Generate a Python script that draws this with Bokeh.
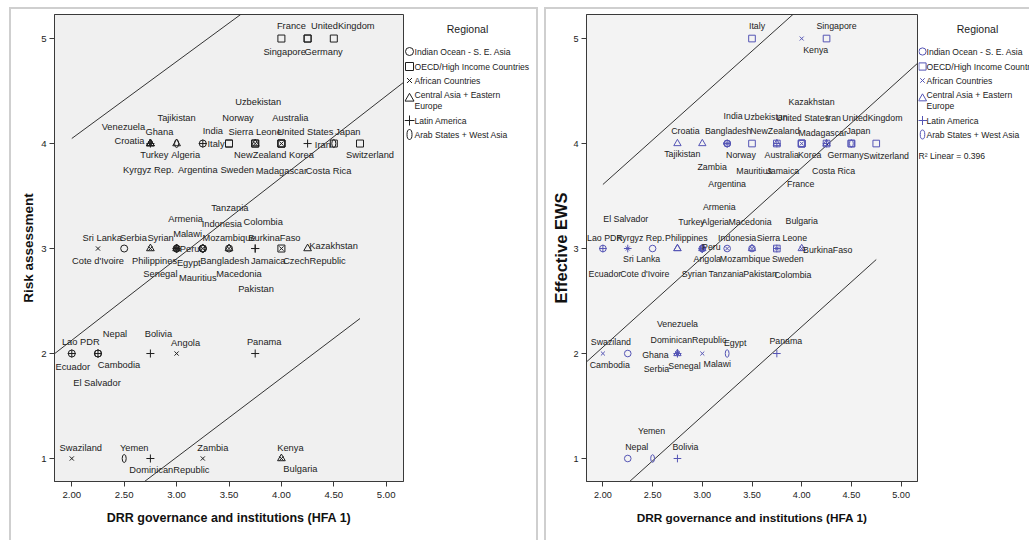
from bokeh.plotting import figure
from bokeh.layouts import row
from bokeh.models import ColumnDataSource, Range1d, FixedTicker, PrintfTickFormatter
from bokeh.core.properties import value
from bokeh.embed import file_html
from bokeh.resources import INLINE

# ---------------- data ----------------
countries = ["France", "UnitedKingdom", "Singapore", "Germany", "Uzbekistan", "Tajikistan",
             "Norway", "Australia", "Venezuela", "Ghana", "India", "Sierra Leone",
             "United States", "Japan", "Croatia", "Italy", "Iran", "Turkey", "Algeria",
             "NewZealand", "Korea", "Switzerland", "Kyrgyz Rep.", "Argentina", "Sweden",
             "Madagascar", "Costa Rica", "Tanzania", "Armenia", "Indonesia", "Colombia",
             "Sri Lanka", "Serbia", "Syrian", "Malawi", "Mozambique", "BurkinaFaso",
             "Kazakhstan", "Peru", "Cote d'Ivoire", "Philippines", "Egypt", "Bangladesh",
             "Jamaica", "CzechRepublic", "Senegal", "Mauritius", "Macedonia", "Pakistan",
             "Lao PDR", "Nepal", "Bolivia", "Angola", "Ecuador", "Cambodia", "El Salvador",
             "Panama", "Swaziland", "Yemen", "Zambia", "DominicanRepublic", "Kenya", "Bulgaria"]

hfa1 = [4.0, 4.5, 4.25, 4.25, 3.75, 3.0,
        3.5, 4.0, 2.75, 2.75, 3.25, 3.75,
        4.0, 4.5, 2.75, 3.5, 4.5, 2.75, 3.0,
        3.75, 4.0, 4.75, 2.75, 3.25, 3.75,
        4.0, 4.25, 3.25, 3.0, 3.25, 3.75,
        2.5, 2.75, 3.0, 3.0, 3.5, 4.0,
        4.25, 3.0, 2.25, 3.0, 3.25, 3.25,
        3.75, 4.0, 2.75, 3.25, 3.5, 3.5,
        2.0, 2.25, 2.75, 3.0, 2.0, 2.25, 2.25,
        3.75, 2.0, 2.5, 3.25, 2.75, 4.0, 4.0]

risk = [5, 5, 5, 5, 4, 4,
        4, 4, 4, 4, 4, 4,
        4, 4, 4, 4, 4, 4, 4,
        4, 4, 4, 4, 4, 4,
        4, 4, 3, 3, 3, 3,
        3, 3, 3, 3, 3, 3,
        3, 3, 3, 3, 3, 3,
        3, 3, 3, 3, 3, 3,
        2, 2, 2, 2, 2, 2, 2,
        2, 1, 1, 1, 1, 1, 1]

ews = [4, 4, 5, 4, 4, 4,
       4, 4, 2, 2, 4, 3,
       4, 4, 4, 5, 4, 3, 3,
       4, 4, 4, 3, 4, 3,
       4, 4, 3, 3, 3, 3,
       3, 2, 3, 2, 3, 3,
       4, 3, 3, 3, 2, 4,
       4, None, 2, 4, 3, 3,
       3, 1, 1, 3, 3, 2, 3,
       2, 2, 1, 4, 2, 5, 3]

# 0 Indian Ocean, 1 OECD, 2 African, 3 Central Asia + E. Europe, 4 Latin America, 5 Arab States
region = [1, 1, 1, 1, 3, 3,
          1, 1, 4, 2, 0, 2,
          1, 1, 3, 1, 5, 3, 5,
          1, 1, 1, 3, 4, 1,
          2, 4, 2, 3, 0, 4,
          0, 3, 5, 2, 2, 2,
          3, 4, 2, 0, 5, 0,
          4, 1, 2, 0, 3, 0,
          0, 0, 4, 2, 4, 0, 4,
          4, 2, 5, 2, 4, 2, 3]

regions = ["Indian Ocean - S. E. Asia", "OECD/High Income Countries", "African Countries",
           "Central Asia + Eastern\nEurope", "Latin America", "Arab States + West Asia"]

x_ticks = [2.0, 2.5, 3.0, 3.5, 4.0, 4.5, 5.0]
y_ticks = [1, 2, 3, 4, 5]

# fitted line and prediction-interval lines (value at x=2.00, slope)
fit_risk = (2.126, 0.776)
upper_risk = (4.048, 0.733)
lower_risk = (0.257, 0.755)
fit_ews = (2.061, 0.854)
upper_ews = (3.610, 0.847)
lower_ews = (0.552, 0.852)
r2_ews = 0.396

# ---------------- label placement (screen px offsets) ----------------
off_risk = {
    "France": (10, -13), "UnitedKingdom": (9, -13), "Singapore": (-23, 13), "Germany": (16, 13),
    "Uzbekistan": (3, -42), "Tajikistan": (0, -26), "Norway": (9, -26), "Australia": (9, -26),
    "Venezuela": (-27, -17), "Ghana": (9, -12), "India": (10, -13), "Sierra Leone": (0, -12),
    "United States": (24, -12), "Japan": (14, -12), "Croatia": (-21, -3), "Italy": (-13, 0),
    "Iran": (-11, 1), "Turkey": (4, 11), "Algeria": (9, 11), "NewZealand": (5, 11), "Korea": (20, 11),
    "Switzerland": (10, 11), "Kyrgyz Rep.": (-2, 26), "Argentina": (-5, 26), "Sweden": (-18, 26),
    "Madagascar": (0, 27), "Costa Rica": (21, 27),
    "Tanzania": (27, -41), "Armenia": (9, -30), "Indonesia": (19, -25), "Colombia": (8, -27),
    "Sri Lanka": (-22, -11), "Serbia": (-17, -11), "Syrian": (-16, -11), "Malawi": (11, -15),
    "Mozambique": (0, -11), "BurkinaFaso": (-7, -11), "Kazakhstan": (26, -3), "Peru": (13, 0),
    "Cote d'Ivoire": (0, 12), "Philippines": (-22, 12), "Egypt": (-14, 14), "Bangladesh": (22, 12),
    "Jamaica": (13, 12), "CzechRepublic": (33, 12), "Senegal": (10, 25), "Mauritius": (-5, 29),
    "Macedonia": (10, 25), "Pakistan": (27, 40),
    "Lao PDR": (9, -12), "Nepal": (17, -20), "Bolivia": (8, -20), "Angola": (9, -11), "Ecuador": (1, 13),
    "Cambodia": (21, 11), "El Salvador": (-1, 29), "Panama": (9, -12),
    "Swaziland": (9, -11), "Yemen": (10, -11), "Zambia": (10, -11), "DominicanRepublic": (19, 11),
    "Kenya": (9, -11), "Bulgaria": (19, 10),
}
off_ews = {
    "Italy": (5, -13), "Singapore": (10, -13), "Kenya": (14, 11),
    "Kazakhstan": (-15, -42), "India": (6, -28), "Uzbekistan": (-11, -27), "United States": (1, -26),
    "Iran": (-18, -26), "UnitedKingdom": (21, -26), "Croatia": (8, -13), "Bangladesh": (1, -13),
    "NewZealand": (-2, -13), "Madagascar": (21, -11), "Japan": (7, -13), "Tajikistan": (-20, 10),
    "Norway": (-11, 11), "Australia": (-20, 11), "Korea": (8, 11), "Germany": (19, 11),
    "Switzerland": (10, 12), "Zambia": (-15, 23), "Mauritius": (27, 27), "Jamaica": (6, 27),
    "Costa Rica": (7, 27), "Argentina": (0, 40), "France": (-1, 40),
    "Armenia": (17, -42), "El Salvador": (-2, -30), "Turkey": (14, -27), "Algeria": (13, -27),
    "Macedonia": (-2, -27), "Bulgaria": (0, -28), "Lao PDR": (2, -11), "Kyrgyz Rep.": (-37, -11),
    "Philippines": (-16, -11), "Indonesia": (10, -11), "Sierra Leone": (5, -11), "Peru": (9, -2),
    "BurkinaFaso": (26, 1), "Sri Lanka": (-11, 10), "Angola": (5, 10), "Mozambique": (-7, 10),
    "Sweden": (11, 10), "Ecuador": (2, 25), "Cote d'Ivoire": (17, 25), "Syrian": (-8, 25),
    "Tanzania": (-1, 25), "Pakistan": (8, 25), "Colombia": (16, 26),
    "Venezuela": (0, -30), "Swaziland": (8, -12), "DominicanRepublic": (11, -14), "Egypt": (8, -11),
    "Panama": (9, -13), "Cambodia": (-18, 11), "Ghana": (-22, 1), "Serbia": (-21, 15),
    "Senegal": (7, 12), "Malawi": (15, 10),
    "Yemen": (-1, -28), "Nepal": (9, -12), "Bolivia": (8, -12),
}

FONT = "Liberation Sans"
X0, X1 = 1.835, 5.165
Y0, Y1 = 0.781, 5.229
H = 540
TOP, BOTTOM = 14, 59          # frame top / bottom borders shared by all panels of the row
FRAME_BORDER = "#cfcfcf"


def make_chart(yvals, offs, ylabel, W, bl, mcol, scale, fit, upper, lower,
               ylab_size, xlab_size, ylab_standoff, bg):
    p = figure(width=W, height=H, x_range=Range1d(X0, X1), y_range=Range1d(Y0, Y1),
               output_backend="svg", toolbar_location=None,
               min_border_left=bl, min_border_right=1, min_border_top=TOP,
               min_border_bottom=BOTTOM)
    p.background_fill_color = bg
    p.border_fill_alpha = 0
    p.outline_line_color = "#3a3a3a"
    p.outline_line_width = 1
    p.grid.visible = False

    p.xaxis.ticker = FixedTicker(ticks=x_ticks)
    p.xaxis.formatter = PrintfTickFormatter(format="%.2f")
    p.yaxis.ticker = FixedTicker(ticks=y_ticks)
    p.yaxis.formatter = PrintfTickFormatter(format="%d")
    for ax in (p.xaxis[0], p.yaxis[0]):
        ax.major_tick_in = 0
        ax.major_tick_out = 5
        ax.minor_tick_in = 0
        ax.minor_tick_out = 0
        ax.axis_line_color = "#3a3a3a"
        ax.major_tick_line_color = "#3a3a3a"
        ax.major_label_text_font = FONT
        ax.major_label_text_font_size = "%.1fpx" % (9.6 * scale)
        ax.major_label_text_color = "#222222"
    p.xaxis.major_label_standoff = 5
    p.yaxis.major_label_standoff = 3
    p.xaxis.axis_label = "DRR governance and institutions (HFA 1)"
    p.xaxis.axis_label_text_font = FONT
    p.xaxis.axis_label_text_font_style = "bold"
    p.xaxis.axis_label_text_font_size = xlab_size
    p.xaxis.axis_label_text_color = "#111111"
    p.xaxis.axis_label_standoff = 10
    p.yaxis.axis_label = ylabel
    p.yaxis.axis_label_text_font = FONT
    p.yaxis.axis_label_text_font_style = "bold"
    p.yaxis.axis_label_text_font_size = ylab_size
    p.yaxis.axis_label_text_color = "#111111"
    p.yaxis.axis_label_standoff = ylab_standoff

    # regression line and prediction-interval lines
    xmin, xmax = min(hfa1), max(hfa1)
    p.line([X0, X1], [fit[0] + fit[1] * (X0 - 2), fit[0] + fit[1] * (X1 - 2)],
           line_color="#333333", line_width=1)
    for a, b in (upper, lower):
        p.line([xmin, xmax], [a + b * (xmin - 2), a + b * (xmax - 2)],
               line_color="#333333", line_width=1)

    # markers per region
    msize = 7 * scale
    markers = ["circle", "square", "x", "triangle", "cross"]
    sizes = [msize, msize, msize * 0.85, msize * 1.1, msize * 1.15]
    n = len(countries)
    for r in range(6):
        xs = [hfa1[i] for i in range(n) if region[i] == r and yvals[i] is not None]
        ys = [yvals[i] for i in range(n) if region[i] == r and yvals[i] is not None]
        if r < 5:
            p.scatter(xs, ys, marker=markers[r], size=sizes[r], fill_color=None,
                      line_color=mcol, line_width=1)
        else:
            p.ellipse(xs, ys, width=4 * scale, height=8 * scale, width_units="screen",
                      height_units="screen", fill_color=None, line_color=mcol, line_width=1)

    # point labels
    idx = [i for i in range(n) if yvals[i] is not None and countries[i] in offs]
    src = ColumnDataSource(dict(
        x=[hfa1[i] for i in idx], y=[yvals[i] for i in idx],
        name=[countries[i] for i in idx],
        dx=[offs[countries[i]][0] for i in idx], dy=[offs[countries[i]][1] for i in idx]))
    p.text(x="x", y="y", text="name", x_offset="dx", y_offset="dy", source=src,
           text_font=value(FONT), text_font_size=value("%.1fpx" % (9.3 * scale)),
           text_color="#222222", text_align="center", text_baseline="middle")
    return p


def make_legend(W, left_px, mcol, mx, tx, cx, msc, r2=None):
    # a legend panel whose coordinates are the picture's own pixels
    L = figure(width=W, height=H, x_range=Range1d(left_px, left_px + W),
               y_range=Range1d(H - BOTTOM, TOP),
               output_backend="svg", toolbar_location=None, x_axis_location=None,
               y_axis_location=None, title_location=None, min_border_left=0,
               min_border_right=0, min_border_top=TOP, min_border_bottom=BOTTOM)
    L.grid.visible = False
    L.outline_line_color = None
    L.background_fill_alpha = 0
    L.border_fill_alpha = 0
    L.text(x=[cx], y=[28], text=["Regional"], text_font=value(FONT),
           text_font_size=value("10.5px"), text_align="center", text_baseline="middle",
           text_color="#222222")
    rows_y = [51, 66, 80, 94, 120, 134]
    mk = ["circle", "square", "x", "triangle", "cross"]
    msz = [8 * msc, 8 * msc, 7 * msc, 9 * msc, 10 * msc]
    tx_l, ty_l, tt_l = [], [], []
    for k in range(6):
        gy = 98 if k == 3 else rows_y[k]
        if k < 5:
            L.scatter([mx], [gy], marker=mk[k], size=msz[k], fill_color=None,
                      line_color=mcol, line_width=1)
        else:
            L.ellipse([mx], [gy], width=5 * msc, height=10 * msc, width_units="screen",
                      height_units="screen", fill_color=None, line_color=mcol, line_width=1)
        for j, t in enumerate(regions[k].split("\n")):
            tx_l.append(tx)
            ty_l.append(rows_y[k] + 11 * j)
            tt_l.append(t)
    if r2 is not None:
        tx_l.append(mx - 4)
        ty_l.append(155)
        tt_l.append("R\u00b2 Linear = %.3f" % r2)
    L.text(x=tx_l, y=ty_l, text=tt_l, text_font=value(FONT), text_font_size=value("8.6px"),
           text_align="left", text_baseline="middle", text_color="#222222")
    return L


# left chart: frame 54..403 px, legend panel 404..541
p1 = make_chart(risk, off_risk, "Risk assessment", 404, 54, "#1e1e1e", 1.0,
                fit_risk, upper_risk, lower_risk, "13.5px", "12.5px", 2, "#f0f0f0")
l1 = make_legend(137, 404, "#1e1e1e", 409, 414, 467, 1.0)
# right chart: frame 586..917 px, legend panel 918..1029
p2 = make_chart(ews, off_ews, "Effective EWS", 377, 45, "#5555b5", 0.95,
                fit_ews, upper_ews, lower_ews, "16.5px", "11.8px", 0, "#f3f3f3")
l2 = make_legend(111, 918, "#5555b5", 922, 926, 977, 0.9, r2=r2_ews)

# outer chart frames (light grey) drawn as inset shadows on the panels
p1.styles = {"box-shadow": "inset 9px 7px 0 #ffffff, inset 11px 9px 0 %s" % FRAME_BORDER}
l1.styles = {"box-shadow": "inset -3px 7px 0 #ffffff, inset -5px 9px 0 %s" % FRAME_BORDER}
p2.styles = {"box-shadow": "inset 3px 7px 0 #ffffff, inset 5px 9px 0 %s" % FRAME_BORDER}
l2.styles = {"box-shadow": "inset 0 7px 0 #ffffff, inset 0 9px 0 %s" % FRAME_BORDER}

layout = row(p1, l1, p2, l2, spacing=0)
open("out.html", "w").write(file_html(layout, INLINE))
